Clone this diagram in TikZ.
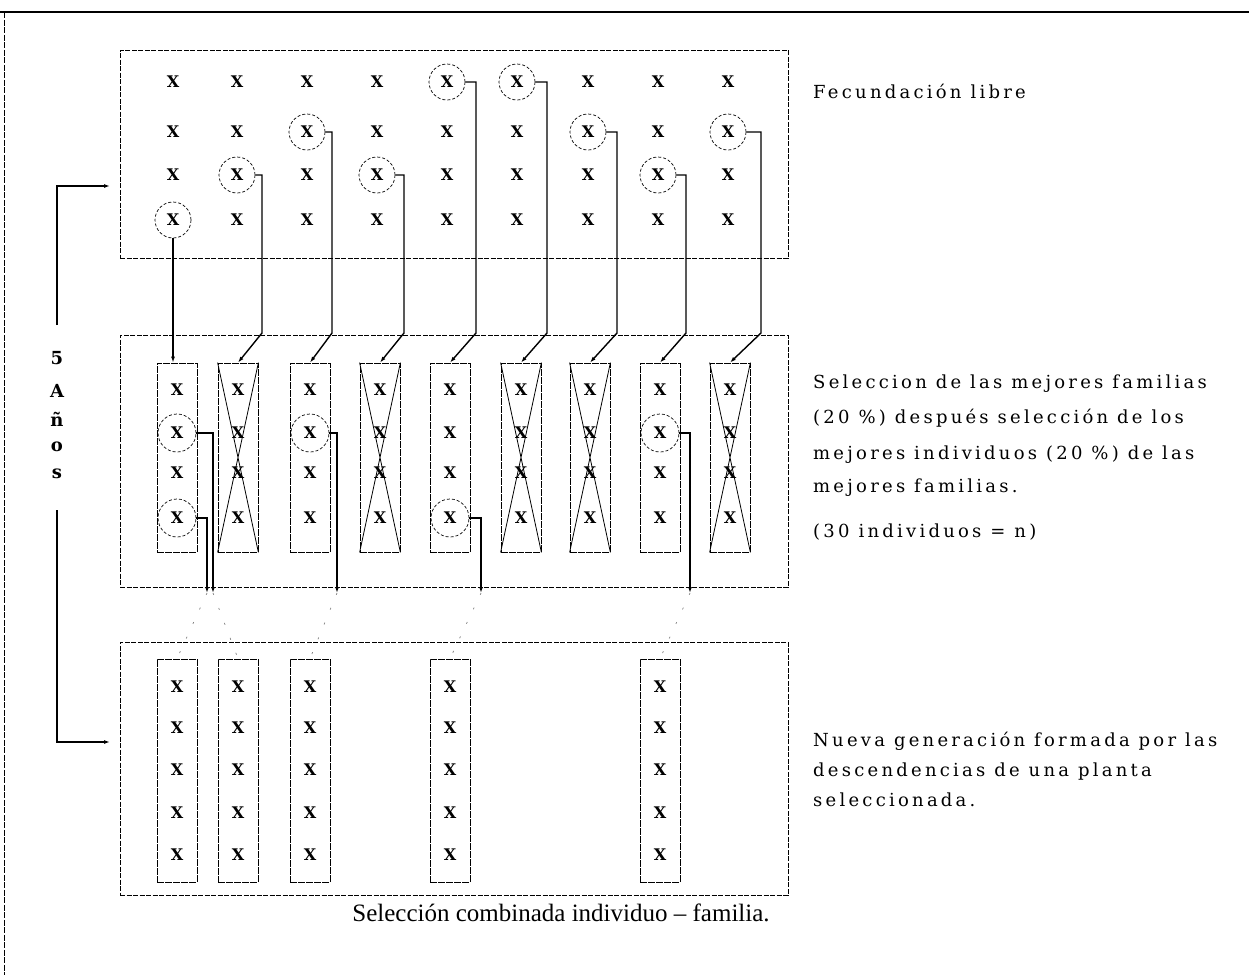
\documentclass[tikz,border=0pt]{standalone}
\usepackage{fontspec}
\setmainfont{Liberation Serif}
\newfontfamily\spacedfont[LetterSpace=18]{DejaVu Serif}
\newfontfamily\markfont{DejaVu Serif}
\usetikzlibrary{arrows.meta}
\tikzset{
  xm/.style={font=\markfont\fontsize{16}{16}\selectfont\bfseries, inner sep=0pt},
  sel/.style={circle, draw, dash pattern=on 3pt off 2pt, line width=0.7pt, minimum size=36pt, inner sep=0pt},
  bigbox/.style={draw, dash pattern=on 5pt off 1.5pt, line width=0.7pt, inner sep=0pt},
  fam/.style={draw, dash pattern=on 7pt off 1pt, line width=0.8pt, minimum width=40pt, inner sep=0pt},
  cross/.style={line width=0.8pt},
  conn/.style={line width=1.4pt},
  arr/.style={conn, -{Latex[length=6pt,width=4pt]}},
  faint/.style={gray, line width=0.7pt, dash pattern=on 2pt off 14pt},
  rtxt/.style={font=\spacedfont\fontsize{18}{18}\selectfont, anchor=base west, inner sep=0pt},
  yr/.style={font=\markfont\fontsize{18}{18}\selectfont\bfseries, inner sep=0pt},
  ttl/.style={font=\fontsize{25}{25}\selectfont, anchor=base, inner sep=0pt}
}
\begin{document}
\begin{tikzpicture}[x=1pt,y=-1pt]
\useasboundingbox (0,0) rectangle (1249,975);
% outer frame
\coordinate (FTL) at (4,12);
\coordinate (FTR) at (1249,12);
\coordinate (FBL) at (4,975);
\draw[line width=1.8pt] (0,12) -- (FTR);
\draw[line width=0.6pt, dash pattern=on 6pt off 1.5pt] (FTL) -- (FBL);

% three big boxes
\node[bigbox, minimum width=668pt, minimum height=208pt] (B1) at (454,154) {};
\node[bigbox, minimum width=668pt, minimum height=252pt] (B2) at (454,461) {};
\node[bigbox, minimum width=668pt, minimum height=253pt] (B3) at (454,768.5) {};

% top grid
\foreach \x [count=\c] in {173,237,307,377,447,517,588,658,728}{
  \foreach \y [count=\r] in {82,132,175,220}{
    \node[xm] (t\c-\r) at (\x,\y) {X};
  }
}
\foreach \c/\r in {1/4,2/3,3/2,4/3,5/1,6/1,7/2,8/3,9/2}{
  \node[sel] (ts\c) at (t\c-\r) {};
}

% middle families
\foreach \x [count=\c] in {177,238,310,380,450,521,590,660,730}{
  \node[fam, minimum height=189pt] (f\c) at (\x,457.5) {};
  \foreach \y [count=\r] in {390,433,473,518}{
    \node[xm] (m\c-\r) at (\x,\y) {X};
  }
}
\foreach \c in {2,4,6,7,9}{
  \draw[cross] (f\c.north west) -- (f\c.south east) (f\c.north east) -- (f\c.south west);
}
\foreach \c/\r in {1/2,1/4,3/2,5/4,8/2}{
  \node[sel, minimum size=38pt] (ms\c-\r) at (m\c-\r) {};
}

% connectors top -> middle
\draw[arr] (ts1.south) -- (ts1.south |- f1.north);
\foreach \c/\v in {2/262,3/332,4/404,5/476,6/547,7/617,8/686,9/761}{
  \coordinate (k\c) at (\v,333);
  \draw[arr] (ts\c.east) -| (k\c) -- (f\c.north);
}

% connectors middle -> bottom
\coordinate (a1) at (213,593);
\coordinate (a2) at (207,593);
\coordinate (a3) at (337,593);
\coordinate (a4) at (481,593);
\coordinate (a5) at (690,593);
\draw[arr] (ms1-2.east) -| (a1);
\draw[arr] (ms1-4.east) -| (a2);
\draw[arr] (ms3-2.east) -| (a3);
\draw[arr] (ms5-4.east) -| (a4);
\draw[arr] (ms8-2.east) -| (a5);

% bottom families
\foreach \x [count=\c] in {177,238,310,450,660}{
  \node[fam, minimum height=223pt] (g\c) at (\x,770.5) {};
  \foreach \y [count=\r] in {687,728,770,813,855}{
    \node[xm] (b\c-\r) at (\x,\y) {X};
  }
}
\draw[faint] (a2) -- (g1.north);
\draw[faint] (a1) -- (g2.north);
\draw[faint] (a3) -- (g3.north);
\draw[faint] (a4) -- (g4.north);
\draw[faint] (a5) -- (g5.north);

% left bracket
\coordinate (Lt) at (57,325);
\coordinate (Lte) at (110,186);
\coordinate (Lb) at (57,510);
\coordinate (Lbe) at (110,742);
\draw[arr] (Lt) |- (Lte);
\draw[arr] (Lb) |- (Lbe);
\node[yr] (y1) at (57,358) {5};
\node[yr] (y2) at (57,391) {A};
\node[yr] (y3) at (57,419) {ñ};
\node[yr] (y4) at (57,447) {o};
\node[yr] (y5) at (57,474) {s};

% right texts
\node[rtxt] (r0) at (813,98) {Fecundación libre};
\node[rtxt] (r1) at (813,388) {Seleccion de las mejores familias};
\node[rtxt] (r2) at (813,423) {(20 \%) después selección de los};
\node[rtxt] (r3) at (813,459) {mejores individuos (20 \%) de las};
\node[rtxt] (r4) at (813,492) {mejores familias.};
\node[rtxt] (r5) at (813,537) {(30 individuos = n)};
\node[rtxt] (r6) at (813,746) {Nueva generación formada por las};
\node[rtxt] (r7) at (813,776) {descendencias de una planta};
\node[rtxt] (r8) at (813,806) {seleccionada.};

% title
\node[ttl] (T) at (561,921) {Selección combinada individuo – familia.};
\end{tikzpicture}
\end{document}
